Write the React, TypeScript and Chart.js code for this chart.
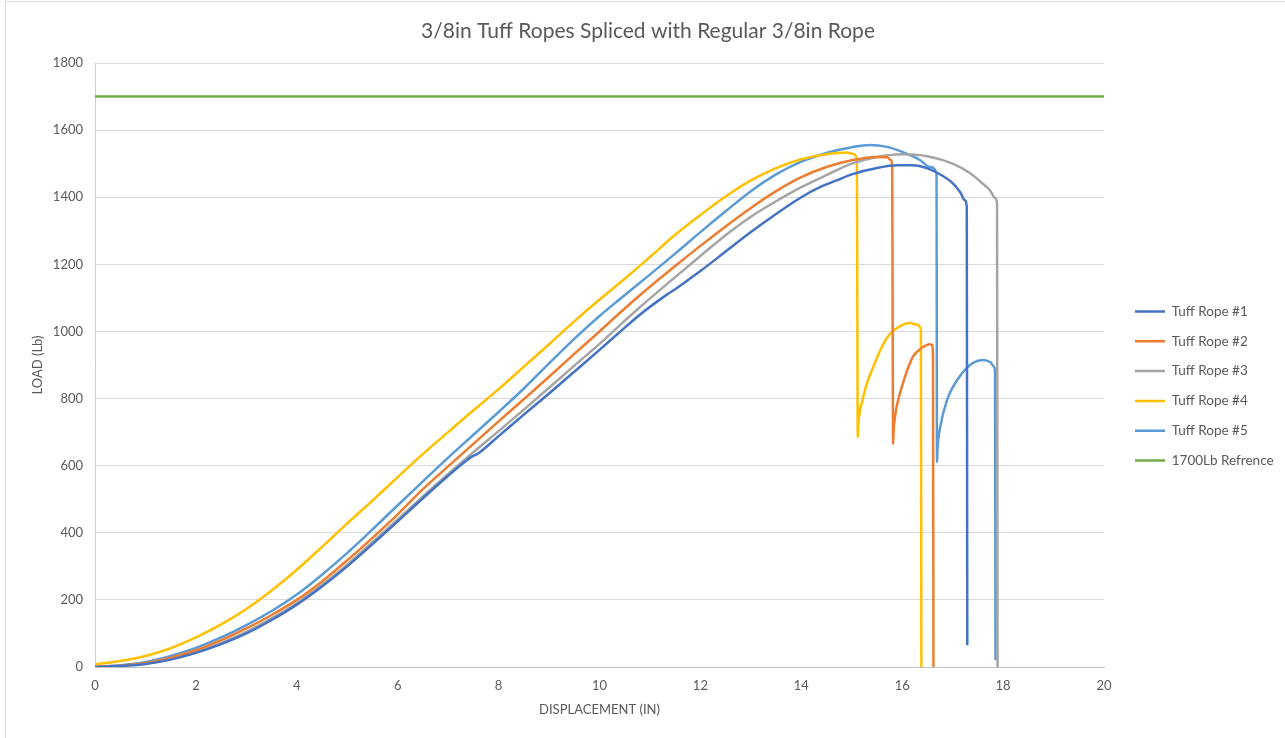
import { useEffect, useRef } from "react";
import { Chart, registerables } from "chart.js";

Chart.register(...registerables);

const chartTitle = "3/8in Tuff Ropes Spliced with Regular 3/8in Rope";
const xAxisTitle = "DISPLACEMENT (IN)";
const yAxisTitle = "LOAD (Lb)";

const seriesNames = ["Tuff Rope #1", "Tuff Rope #2", "Tuff Rope #3", "Tuff Rope #4", "Tuff Rope #5", "1700Lb Refrence"];
const seriesColors = ["#4472C4", "#ED7D31", "#A5A5A5", "#FFC000", "#5B9BD5", "#70AD47"];

// [displacement (in), load (lb)]
const rope1: [number, number][] = [
  [0, 0], [0.5, 3], [1, 9], [1.5, 22], [2, 42], [2.5, 68], [3, 100], [3.5, 140], [4, 186], [4.5, 240],
  [5, 300], [5.5, 366], [6, 434], [6.5, 503], [7, 570], [7.3, 608], [7.47, 627], [7.6, 637], [8, 688],
  [8.5, 752], [9, 815], [9.5, 880], [10, 945], [10.4, 998], [10.8, 1050], [11.3, 1106], [11.5, 1126],
  [12, 1180], [12.5, 1238], [13, 1296], [13.5, 1350], [14, 1400], [14.4, 1432], [14.7, 1450], [15, 1468],
  [15.5, 1487], [15.9, 1495], [16.2, 1495], [16.5, 1486], [16.8, 1464], [17, 1442], [17.15, 1415],
  [17.25, 1390], [17.28, 1370], [17.29, 65],
];
const rope2: [number, number][] = [
  [0, 0], [0.5, 4], [1, 12], [1.5, 28], [2, 50], [2.5, 80], [3, 115], [3.5, 155], [4, 200], [4.5, 255],
  [5, 318], [5.5, 385], [6, 455], [6.5, 530], [7, 598], [7.5, 665], [8, 732], [8.5, 798], [9, 865],
  [9.5, 933], [10, 1000], [10.4, 1055], [10.8, 1108], [11.5, 1195], [12, 1255], [12.5, 1313], [13, 1368],
  [13.5, 1418], [14, 1460], [14.5, 1490], [15, 1510], [15.5, 1520], [15.7, 1519], [15.78, 1510],
  [15.8, 1495], [15.82, 665], [15.83, 706], [15.86, 748], [15.9, 782], [16.02, 848], [16.21, 924],
  [16.4, 952], [16.55, 962], [16.59, 960], [16.61, 930], [16.62, 0],
];
const rope3: [number, number][] = [
  [0, 0], [0.5, 3], [1, 10], [1.5, 24], [2, 44], [2.5, 72], [3, 105], [3.5, 145], [4, 190], [4.5, 245],
  [5, 305], [5.5, 372], [6, 440], [6.5, 508], [7, 575], [7.5, 640], [8, 703], [8.5, 767], [9, 832],
  [9.5, 898], [10, 963], [10.4, 1018], [10.8, 1072], [11.5, 1162], [12, 1225], [12.5, 1287], [13, 1342],
  [13.5, 1388], [14, 1430], [14.5, 1466], [15, 1500], [15.5, 1520], [16, 1528], [16.5, 1522], [17, 1500],
  [17.34, 1472], [17.6, 1440], [17.74, 1421], [17.84, 1398], [17.88, 1380], [17.89, 0],
];
const rope4: [number, number][] = [
  [0, 8], [0.5, 18], [1, 33], [1.5, 56], [2, 88], [2.5, 127], [3, 173], [3.5, 228], [4, 290], [4.5, 358],
  [5, 428], [5.5, 496], [6, 566], [6.5, 635], [7, 700], [7.5, 765], [8, 828], [8.5, 895], [9, 962],
  [9.5, 1030], [10, 1095], [10.5, 1157], [11, 1222], [11.5, 1288], [12, 1347], [12.5, 1402], [13, 1450],
  [13.5, 1487], [14, 1513], [14.5, 1528], [14.9, 1533], [15.05, 1528], [15.1, 1510], [15.12, 685],
  [15.13, 722], [15.16, 760], [15.22, 800], [15.3, 845], [15.42, 892], [15.6, 955], [15.76, 993],
  [15.95, 1015], [16.15, 1025], [16.3, 1020], [16.37, 1005], [16.38, 0],
];
const rope5: [number, number][] = [
  [0, 0], [0.5, 5], [1, 15], [1.5, 33], [2, 57], [2.5, 88], [3, 125], [3.5, 167], [4, 216], [4.5, 275],
  [5, 340], [5.5, 410], [6, 482], [6.5, 553], [7, 624], [7.5, 692], [8, 760], [8.5, 830], [9, 905],
  [9.5, 978], [10, 1046], [10.4, 1096], [10.8, 1145], [11.5, 1232], [12, 1296], [12.5, 1358], [13, 1418],
  [13.5, 1468], [14, 1506], [14.5, 1532], [15, 1549], [15.36, 1556], [15.7, 1550], [16, 1535],
  [16.35, 1511], [16.55, 1490], [16.68, 1472], [16.69, 611], [16.7, 650], [16.75, 712], [16.89, 796],
  [17.15, 868], [17.4, 906], [17.6, 915], [17.75, 908], [17.82, 895], [17.84, 880], [17.85, 20],
];
const reference: [number, number][] = [[0, 1700], [20, 1700]];

const xMin = 0;
const xMax = 20;
const xStep = 2;
const yMin = 0;
const yMax = 1800;
const yStep = 200;

const FONT = "Lato, 'Open Sans', 'DejaVu Sans', sans-serif";
const TEXT = "#595959";
const LEGEND_FONT = 13.5;
const LEGEND_PAD = 16.3;
const LEGEND_BOX = 30;

export default function App() {
  const canvasRef = useRef<HTMLCanvasElement>(null);

  useEffect(() => {
    const canvas = canvasRef.current;
    if (!canvas) return;
    const ctx = canvas.getContext("2d")!;
    ctx.font = `${LEGEND_FONT}px ${FONT}`;
    const legendTextW = Math.max(...seriesNames.map((n) => ctx.measureText(n).width));
    const rightPad = Math.max(0, 181 - (LEGEND_PAD + LEGEND_BOX + LEGEND_FONT / 2 + legendTextW + 10));

    const allSeries = [rope1, rope2, rope3, rope4, rope5, reference];
    const layoutTweak = {
      id: "layoutTweak",
      afterLayout(chart: any) {
        const l = chart.legend;
        if (l) {
          const dx = 1135 - LEGEND_PAD - l.left;
          l.left += dx;
          l.right += dx;
          l.top += 17;
          l.bottom += 17;
        }
        const t = chart.titleBlock;
        if (t) {
          t.left = 0;
          t.right = 1296;
        }
      },
    };

    const chart = new Chart(canvas, {
      type: "line",
      data: {
        datasets: allSeries.map((s, i) => ({
          label: seriesNames[i],
          data: s.map(([x, y]) => ({ x, y })),
          borderColor: seriesColors[i],
          backgroundColor: seriesColors[i],
          borderWidth: 2.5,
          pointRadius: 0,
          pointHoverRadius: 0,
          cubicInterpolationMode: "monotone" as const,
          fill: false,
        })),
      },
      options: {
        responsive: false,
        animation: false,
        events: [],
        layout: { padding: { left: 0, right: rightPad, top: 0, bottom: 0 } },
        font: { family: FONT },
        scales: {
          x: {
            type: "linear",
            min: xMin,
            max: xMax,
            afterFit: (s: any) => {
              s.height = 71;
            },
            ticks: { stepSize: xStep, color: TEXT, font: { size: 13, family: FONT }, padding: 11 },
            grid: { display: false, drawTicks: false },
            border: { display: true, color: "#BFBFBF", width: 1 },
            title: {
              display: true,
              text: xAxisTitle,
              color: TEXT,
              font: { size: 13, family: FONT },
              padding: { top: 4, bottom: 20 },
            },
          },
          y: {
            type: "linear",
            min: yMin,
            max: yMax,
            afterFit: (s: any) => {
              s.width = 95;
            },
            ticks: {
              stepSize: yStep,
              color: TEXT,
              font: { size: 13, family: FONT },
              padding: 12,
              callback: (v: any) => String(v),
            },
            grid: { color: "#D9D9D9", lineWidth: 1, drawTicks: false },
            border: { display: true, color: "#D0D0D0", width: 1 },
            title: {
              display: true,
              text: yAxisTitle,
              color: TEXT,
              font: { size: 13, family: FONT },
              padding: { top: 30, bottom: 0 },
            },
          },
        },
        plugins: {
          title: {
            display: true,
            text: chartTitle,
            color: TEXT,
            font: { size: 21, weight: "normal", family: FONT },
            padding: { top: 18.4, bottom: 19.4 },
          },
          legend: {
            position: "right",
            labels: {
              usePointStyle: true,
              pointStyle: "line",
              pointStyleWidth: LEGEND_BOX,
              padding: LEGEND_PAD,
              color: TEXT,
              font: { size: LEGEND_FONT, family: FONT },
            },
          },
          tooltip: { enabled: false },
        },
      },
      plugins: [layoutTweak],
    } as any);

    return () => chart.destroy();
  }, []);

  return (
    <div style={{ position: "absolute", left: 0, top: 0, width: 1285, height: 738, background: "#fff" }}>
      <div
        style={{
          position: "absolute",
          left: 5,
          top: 1,
          width: 1285,
          height: 740,
          borderLeft: "1px solid #D9D9D9",
          borderTop: "1px solid #D9D9D9",
          boxSizing: "border-box",
        }}
      />
      <canvas ref={canvasRef} width={1285} height={738} style={{ position: "absolute", left: 0, top: 0 }} />
    </div>
  );
}
